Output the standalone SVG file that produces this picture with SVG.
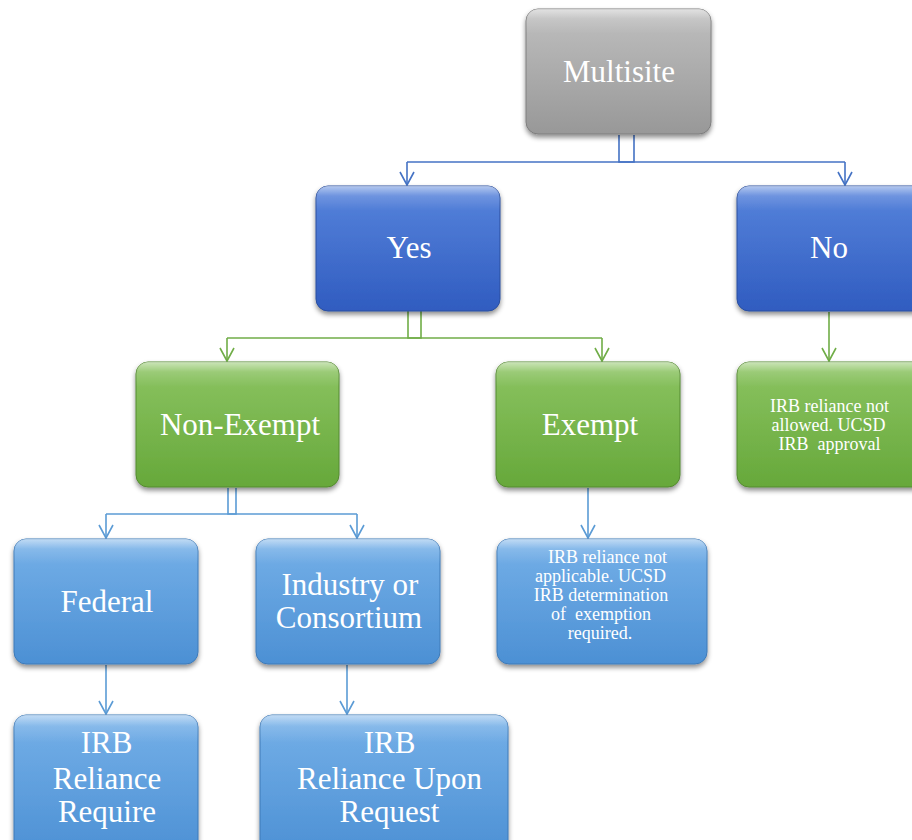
<svg xmlns="http://www.w3.org/2000/svg" width="912" height="840" viewBox="0 0 912 840">
<defs>
<linearGradient id="gGray" x1="0" y1="0" x2="0" y2="1"><stop offset="0" stop-color="#bfbfbf"/><stop offset="1" stop-color="#989898"/></linearGradient>
<linearGradient id="gBlue" x1="0" y1="0" x2="0" y2="1"><stop offset="0" stop-color="#5784dc"/><stop offset="1" stop-color="#305cc0"/></linearGradient>
<linearGradient id="gGreen" x1="0" y1="0" x2="0" y2="1"><stop offset="0" stop-color="#8cc462"/><stop offset="1" stop-color="#66a83a"/></linearGradient>
<linearGradient id="gLight" x1="0" y1="0" x2="0" y2="1"><stop offset="0" stop-color="#75b0e8"/><stop offset="1" stop-color="#4c90d4"/></linearGradient>
<linearGradient id="gloss" x1="0" y1="0" x2="0" y2="1"><stop offset="0" stop-color="#fff" stop-opacity="0.55"/><stop offset="0.08" stop-color="#fff" stop-opacity="0.15"/><stop offset="0.2" stop-color="#fff" stop-opacity="0"/></linearGradient>
<filter id="sh" x="-10%" y="-10%" width="120%" height="130%"><feDropShadow dx="0" dy="3" stdDeviation="2.5" flood-color="#000" flood-opacity="0.45"/></filter>
<marker id="aBlue" markerWidth="18" markerHeight="16" refX="8" refY="14" markerUnits="userSpaceOnUse" viewBox="0 0 18 16"><path d="M1,1 L8,14 L15,1" fill="none" stroke="#4472c4" stroke-width="1.6"/></marker>
<marker id="aGreen" markerWidth="18" markerHeight="16" refX="8" refY="14" markerUnits="userSpaceOnUse" viewBox="0 0 18 16"><path d="M1,1 L8,14 L15,1" fill="none" stroke="#70ad47" stroke-width="1.6"/></marker>
<marker id="aLight" markerWidth="18" markerHeight="16" refX="8" refY="14" markerUnits="userSpaceOnUse" viewBox="0 0 18 16"><path d="M1,1 L8,14 L15,1" fill="none" stroke="#5b9bd5" stroke-width="1.6"/></marker>
</defs>
<style>
.box{filter:url(#sh);stroke-width:1}
.gray{fill:url(#gGray);stroke:#7e7e7e}
.blue{fill:url(#gBlue);stroke:#2a4f9e}
.green{fill:url(#gGreen);stroke:#558a30}
.light{fill:url(#gLight);stroke:#3f7bb8}
.gl{fill:url(#gloss)}
.big{font-family:"Liberation Serif","Times New Roman",serif;font-size:31px;fill:#fff;text-anchor:middle}
.sm{font-family:"Liberation Serif","Times New Roman",serif;font-size:18px;fill:#fff;text-anchor:middle;white-space:pre}
.c{fill:none;stroke-width:1.6}
.cb{stroke:#4472c4}
.cg{stroke:#70ad47}
.cl{stroke:#5b9bd5}
</style>
<g id="connectors">
<path class="c cb" d="M619,135 V162 H634 V135"/>
<path class="c cb" d="M407,162 H845" />
<path class="c cb" d="M407,162 V185" marker-end="url(#aBlue)"/>
<path class="c cb" d="M845,162 V185" marker-end="url(#aBlue)"/>
<path class="c cg" d="M408,311 V338 H421 V311"/>
<path class="c cg" d="M227,338 H602"/>
<path class="c cg" d="M227,338 V361" marker-end="url(#aGreen)"/>
<path class="c cg" d="M602,338 V361" marker-end="url(#aGreen)"/>
<path class="c cg" d="M829,312 V361" marker-end="url(#aGreen)"/>
<path class="c cl" d="M228,488 V514 H236 V488"/>
<path class="c cl" d="M106,514 H357"/>
<path class="c cl" d="M106,514 V538" marker-end="url(#aLight)"/>
<path class="c cl" d="M357,514 V538" marker-end="url(#aLight)"/>
<path class="c cl" d="M588,488 V538" marker-end="url(#aLight)"/>
<path class="c cl" d="M106,665 V714" marker-end="url(#aLight)"/>
<path class="c cl" d="M347,665 V714" marker-end="url(#aLight)"/>
</g>
<g id="multisite">
<rect class="box gray" x="526" y="9" width="185" height="125" rx="12"/>
<rect class="gl" x="526" y="9" width="185" height="125" rx="12"/>
<text class="big" x="619" y="82">Multisite</text>
</g>
<g id="yes">
<rect class="box blue" x="316" y="186" width="184" height="125" rx="12"/>
<rect class="gl" x="316" y="186" width="184" height="125" rx="12"/>
<text class="big" x="409" y="258">Yes</text>
</g>
<g id="no">
<rect class="box blue" x="737" y="186" width="190" height="125" rx="12"/>
<rect class="gl" x="737" y="186" width="190" height="125" rx="12"/>
<text class="big" x="829" y="258">No</text>
</g>
<g id="non-exempt">
<rect class="box green" x="136" y="362" width="203" height="125" rx="12"/>
<rect class="gl" x="136" y="362" width="203" height="125" rx="12"/>
<text class="big" x="240" y="435">Non-Exempt</text>
</g>
<g id="exempt">
<rect class="box green" x="496" y="362" width="184" height="125" rx="12"/>
<rect class="gl" x="496" y="362" width="184" height="125" rx="12"/>
<text class="big" x="590" y="435">Exempt</text>
</g>
<g id="not-allowed">
<rect class="box green" x="737" y="362" width="190" height="125" rx="12"/>
<rect class="gl" x="737" y="362" width="190" height="125" rx="12"/>
<text class="sm" x="829.5" y="412">IRB reliance not</text>
<text class="sm" x="828.5" y="431">allowed. UCSD</text>
<text class="sm" x="829.5" y="450" xml:space="preserve">IRB  approval</text>
</g>
<g id="federal">
<rect class="box light" x="14" y="539" width="184" height="125" rx="12"/>
<rect class="gl" x="14" y="539" width="184" height="125" rx="12"/>
<text class="big" x="107" y="612">Federal</text>
</g>
<g id="industry">
<rect class="box light" x="256" y="539" width="184" height="125" rx="12"/>
<rect class="gl" x="256" y="539" width="184" height="125" rx="12"/>
<text class="big" x="350" y="595">Industry or</text>
<text class="big" x="349" y="628">Consortium</text>
</g>
<g id="not-applicable">
<rect class="box light" x="497" y="539" width="210" height="125" rx="12"/>
<rect class="gl" x="497" y="539" width="210" height="125" rx="12"/>
<text class="sm" x="607.5" y="563">IRB reliance not</text>
<text class="sm" x="600.5" y="582">applicable. UCSD</text>
<text class="sm" x="601" y="601">IRB determination</text>
<text class="sm" x="601" y="620" xml:space="preserve">of  exemption</text>
<text class="sm" x="600" y="639">required.</text>
</g>
<g id="reliance-require">
<rect class="box light" x="14" y="715" width="184" height="140" rx="12"/>
<rect class="gl" x="14" y="715" width="184" height="140" rx="12"/>
<text class="big" x="106.5" y="753">IRB</text>
<text class="big" x="107" y="789">Reliance</text>
<text class="big" x="107" y="822">Require</text>
</g>
<g id="reliance-request">
<rect class="box light" x="260" y="715" width="248" height="140" rx="12"/>
<rect class="gl" x="260" y="715" width="248" height="140" rx="12"/>
<text class="big" x="389.5" y="753">IRB</text>
<text class="big" x="389.5" y="789">Reliance Upon</text>
<text class="big" x="389.5" y="822">Request</text>
</g>
</svg>
